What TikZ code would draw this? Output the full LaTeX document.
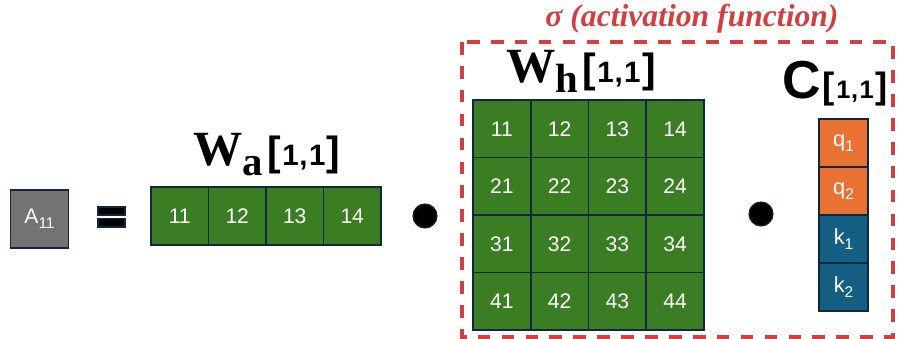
\documentclass[tikz,border=0pt]{standalone}
\usepackage{fontspec}
\setmainfont{Liberation Sans}
\newfontfamily\serifbold{Liberation Serif}
\usetikzlibrary{positioning}
\definecolor{wgreen}{HTML}{3B7D23}
\definecolor{cellline}{HTML}{0E2841}
\definecolor{agray}{HTML}{737373}
\definecolor{qorange}{HTML}{E97132}
\definecolor{kblue}{HTML}{156082}
\definecolor{sigred}{HTML}{D04040}
\newcommand\lowsub[1]{\raisebox{-3.5pt}{\fontsize{11}{11}\selectfont #1}}
% bracketed index [1,1]: bracket size, digit size
\newcommand\idxlabel[2]{{\bfseries\fontsize{#1}{#1}\selectfont[}\kern1pt{\bfseries\fontsize{#2}{#2}\selectfont 1\kern0.5pt,\kern1pt1}\kern1pt{\bfseries\fontsize{#1}{#1}\selectfont]}}
\newcommand\wlabel[1]{{\serifbold\bfseries\fontsize{35}{35}\selectfont W}\raisebox{-7pt}{\serifbold\bfseries\fontsize{29}{29}\selectfont #1}\kern3pt\idxlabel{29}{21}}
\tikzset{
  cell/.style={rectangle, draw=cellline, line width=1.1pt, fill=wgreen, text=white,
    minimum width=1.44cm, minimum height=1.44cm, inner sep=0pt, outer sep=0pt,
    font=\fontsize{15}{15}\selectfont},
  vcell/.style={cell, minimum width=1.22cm, minimum height=1.2cm,
    font=\fontsize{15.5}{15.5}\selectfont},
  dotnode/.style={circle, fill=black, draw=cellline, line width=0.8pt,
    minimum size=0.6cm, inner sep=0pt},
  actbox/.style={draw=sigred, line width=2.8pt, dash pattern=on 9pt off 8pt},
}
\begin{document}
\begin{tikzpicture}[x=0.025cm, y=-0.025cm]
  \useasboundingbox (0,0) rectangle (904,339);
  % left side: A_11 =
  \node[cell, fill=agray, minimum width=1.46cm, minimum height=1.45cm,
        font=\fontsize{15}{15}\selectfont] (a11) at (39.5,219) {A\lowsub{11}};
  \fill[black, draw=cellline, line width=0.8pt] (98,207) rectangle (125,215);
  \fill[black, draw=cellline, line width=0.8pt] (98,218.5) rectangle (125,227);
  % W_a row
  \foreach \j in {1,...,4}
    \node[cell] (wa\j) at ({151+57.5*(\j-0.5)},216) {1\j};
  \node[anchor=base] (walabel) at (267,166) {\wlabel{a}};
  \node[dotnode] (dot1) at (425,216) {};
  % activation box
  \draw[actbox] (462,42) rectangle (893,337);
  \node[anchor=base, text=sigred, font=\serifbold\bfseries\itshape\fontsize{22.5}{22.5}\selectfont]
    (sigma) at (692,27) {σ (activation function)};
  % W_h matrix
  \foreach \i in {1,...,4}
    \foreach \j in {1,...,4}
      \node[cell] (wh\i\j) at ({473+57.75*(\j-0.5)},{100+57.5*(\i-0.5)}) {\i\j};
  \node[anchor=base] (whlabel) at (581,83) {\wlabel{h}};
  \node[dotnode] (dot2) at (761,214) {};
  % C vector
  \node[vcell, fill=qorange] (c1) at (843.5,143) {q\lowsub{1}};
  \node[vcell, fill=qorange, below=0pt of c1] (c2) {q\lowsub{2}};
  \node[vcell, fill=kblue, below=0pt of c2] (c3) {k\lowsub{1}};
  \node[vcell, fill=kblue, below=0pt of c3] (c4) {k\lowsub{2}};
  \node[anchor=base] (clabel) at (835,99)
    {{\bfseries\fontsize{38}{38}\selectfont C}\kern1pt\idxlabel{26}{18}};
\end{tikzpicture}
\end{document}
